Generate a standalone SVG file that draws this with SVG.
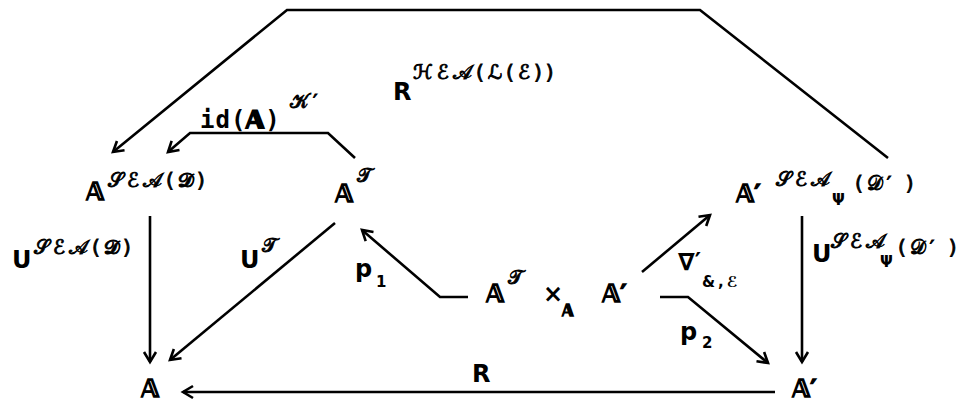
<svg xmlns="http://www.w3.org/2000/svg" width="980" height="403" viewBox="0 0 980 403">
<style>
text{font-family:"DejaVu Sans","Noto Sans",sans-serif;font-weight:bold;fill:#000}
.m{font-size:24px}
.t{font-family:"DejaVu Sans Mono",monospace;font-size:24px;letter-spacing:1px}
.bb{stroke:#000;stroke-width:1.3px}
.s{font-size:20px;font-weight:normal;stroke:#000;stroke-width:0.9px;letter-spacing:4px}
.ss{font-size:15px}
.c path{fill:none;stroke:#000;stroke-width:2.6;stroke-linejoin:miter}
</style>
<defs>
<marker id="ah" markerUnits="userSpaceOnUse" markerWidth="16" markerHeight="16" refX="12" refY="7" orient="auto" viewBox="0 0 16 14">
<path d="M2,1 L12,7 L2,13" fill="none" stroke="#000" stroke-width="2.6"/>
</marker>
</defs>
<g id="connectors" class="c">
<path d="M888,158 L700,10 L287,10 L113,152" marker-end="url(#ah)"/>
<path d="M355,158 L328,133 L190,133 L168,152" marker-end="url(#ah)"/>
<path d="M150,216 L150,362" marker-end="url(#ah)"/>
<path d="M335,223 L170,360" marker-end="url(#ah)"/>
<path d="M468,297 L440,297 L362,230" marker-end="url(#ah)"/>
<path d="M642,272 L710,215" marker-end="url(#ah)"/>
<path d="M660,297 L688,297 L768,363" marker-end="url(#ah)"/>
<path d="M802,216 L802,362" marker-end="url(#ah)"/>
<path d="M775,392 L183,392" marker-end="url(#ah)"/>
</g>
<g id="labels">
<text class="m" x="393" y="100">R</text><text class="s" x="413" y="79" letter-spacing="5">ℋℰ𝒜(ℒ(ℰ))</text>
<text class="t" x="200" y="128">id(<tspan class="bb">𝔸</tspan>)</text><text class="s" x="290" y="108">𝒦′</text>
<text class="m" x="12" y="268">U</text><text class="s" x="34" y="254">𝒮ℰ𝒜(𝓓)</text>
<text class="m" x="240" y="268">U</text><text class="s" x="262" y="252">𝒯</text>
<text class="m" x="355" y="277">p</text><text class="ss" x="376" y="287">1</text>
<text class="m" x="678" y="270">∇′</text><text class="ss" x="702" y="287" letter-spacing="3">&amp;,ℰ</text>
<text class="m" x="680" y="340">p</text><text class="ss" x="702" y="348">2</text>
<text class="m" x="812" y="262">U</text><text class="s" x="831" y="248" letter-spacing="5">𝒮ℰ𝒜</text><text class="ss" x="880" y="267">Ψ</text><text class="s" x="898" y="254">(𝒟′ )</text>
<text class="m" x="472" y="382">R</text>
</g>
<g id="n1"><text class="m bb" x="86" y="200">𝔸</text><text class="s" x="108" y="187">𝒮ℰ𝒜(𝓓)</text></g>
<g id="n2"><text class="m bb" x="335" y="202">𝔸</text><text class="s" x="357" y="182">𝒯</text></g>
<g id="n3"><text class="m bb" x="736" y="202">𝔸′</text><text class="s" x="776" y="186" letter-spacing="5">𝒮ℰ𝒜</text><text class="ss" x="832" y="205">Ψ</text><text class="s" x="855" y="190">(𝒟′ )</text></g>
<g id="n4"><text class="m bb" x="486" y="302">𝔸</text><text class="s" x="508" y="284">𝒯</text><text class="m" x="543" y="302">×</text><text class="ss bb" x="562" y="316">𝔸</text><text class="m bb" x="602" y="302">𝔸′</text></g>
<g id="n5"><text class="m bb" x="141" y="397">𝔸</text></g>
<g id="n6"><text class="m bb" x="792" y="397">𝔸′</text></g>
</svg>
